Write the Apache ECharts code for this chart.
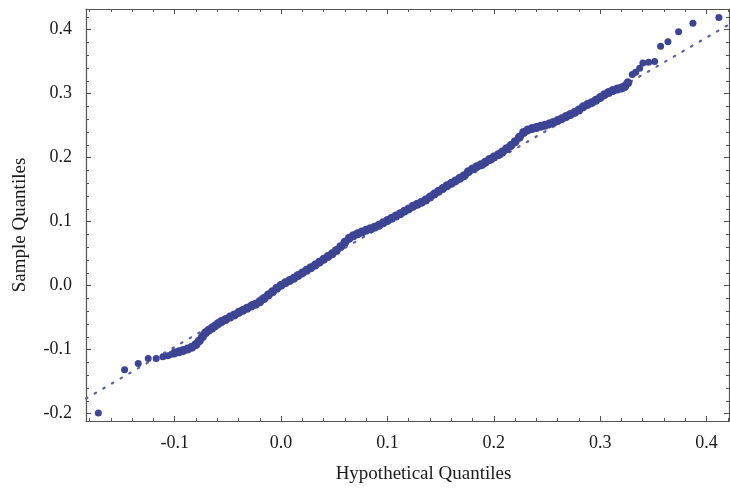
<!DOCTYPE html>
<html>
<head>
<meta charset="utf-8">
<script src="https://cdn.jsdelivr.net/npm/echarts@6/dist/echarts.min.js"></script>
<style>
  html, body { margin: 0; padding: 0; background: #fff; }
  #chart { width: 730px; height: 488px; }
</style>
</head>
<body>
<div id="chart"></div>
<script>
// sample quantiles (theoretical x, sample y)
var sampleX = [
  -0.1718, -0.1471, -0.1343, -0.1249, -0.1174, -0.1111, -0.1064, -0.1030,
  -0.100, -0.096, -0.092, -0.088, -0.084, -0.080, -0.077, -0.074, -0.071, -0.068,
  -0.065, -0.062, -0.059, -0.056, -0.052, -0.048, -0.044, -0.040, -0.036, -0.032,
  -0.028, -0.024, -0.020, -0.016, -0.012, -0.008, -0.004, 0.000, 0.004, 0.008,
  0.012, 0.016, 0.020, 0.024, 0.028, 0.032, 0.036, 0.040, 0.044, 0.048,
  0.052, 0.056, 0.060, 0.064, 0.068, 0.072, 0.076, 0.080, 0.084, 0.088,
  0.092, 0.096, 0.100, 0.104, 0.108, 0.112, 0.116, 0.120, 0.124, 0.128,
  0.132, 0.136, 0.140, 0.144, 0.148, 0.152, 0.156, 0.160, 0.164, 0.168,
  0.172, 0.176, 0.180, 0.184, 0.188, 0.192, 0.196, 0.200, 0.204, 0.208,
  0.212, 0.216, 0.220, 0.224, 0.228, 0.232, 0.236, 0.240, 0.244, 0.248,
  0.252, 0.256, 0.260, 0.264, 0.268, 0.272, 0.276, 0.280, 0.284, 0.288,
  0.292, 0.296, 0.300, 0.304, 0.308, 0.312, 0.316, 0.320, 0.323, 0.326,
  0.3302, 0.3333, 0.3371, 0.3402, 0.3455, 0.3512, 0.3568, 0.3637, 0.3737, 0.3872, 0.4116
];
var sampleY = [
  -0.1990, -0.1313, -0.1214, -0.1136, -0.1136, -0.1110, -0.1095, -0.1070,
  -0.1050, -0.1032, -0.1012, -0.0990, -0.0962, -0.0918, -0.0862, -0.0800, -0.0735, -0.0695,
  -0.0662, -0.0628, -0.0590, -0.0560, -0.0528, -0.0490, -0.0458, -0.0420, -0.0386, -0.0352,
  -0.0318, -0.0290, -0.0250, -0.0200, -0.0145, -0.0095, -0.0040, 0.0008, 0.0045, 0.0080,
  0.0115, 0.0160, 0.0200, 0.0242, 0.0280, 0.0322, 0.0368, 0.0412, 0.0455, 0.0498,
  0.0550, 0.0610, 0.0680, 0.0740, 0.0780, 0.0812, 0.0840, 0.0868, 0.0890, 0.0915,
  0.0945, 0.0982, 0.1018, 0.1055, 0.1090, 0.1125, 0.1165, 0.1200, 0.1240, 0.1272,
  0.1305, 0.1340, 0.1385, 0.1432, 0.1475, 0.1518, 0.1562, 0.1600, 0.1638, 0.1680,
  0.1718, 0.1780, 0.1825, 0.1860, 0.1890, 0.1930, 0.1972, 0.2010, 0.2045, 0.2090,
  0.2140, 0.2190, 0.2250, 0.2320, 0.2395, 0.2435, 0.2455, 0.2472, 0.2490, 0.2508,
  0.2528, 0.2550, 0.2580, 0.2610, 0.2645, 0.2675, 0.2708, 0.2745, 0.2795, 0.2830,
  0.2860, 0.2898, 0.2940, 0.2985, 0.3020, 0.3050, 0.3072, 0.3090, 0.3112, 0.3170,
  0.3300, 0.3336, 0.3398, 0.3482, 0.3492, 0.3502, 0.3741, 0.3814, 0.3970, 0.4100, 0.4193
];

// dotted reference line, end points
var refX = [-0.1834, 0.4211];
var refY = [-0.1763, 0.4082];

// tick values
var xMajor = [-0.1, 0, 0.1, 0.2, 0.3, 0.4];
var xMinor = [-0.18, -0.16, -0.14, -0.12, -0.08, -0.06, -0.04, -0.02, 0.02, 0.04, 0.06, 0.08,
  0.12, 0.14, 0.16, 0.18, 0.22, 0.24, 0.26, 0.28, 0.32, 0.34, 0.36, 0.38, 0.42];
var yMajor = [-0.2, -0.1, 0, 0.1, 0.2, 0.3, 0.4];
var yMinor = [-0.18, -0.16, -0.14, -0.12, -0.08, -0.06, -0.04, -0.02, 0.02, 0.04, 0.06, 0.08,
  0.12, 0.14, 0.16, 0.18, 0.22, 0.24, 0.26, 0.28, 0.32, 0.34, 0.36, 0.38, 0.42];

var xRange = [-0.1834, 0.4211];
var yRange = [-0.2114, 0.4324];

var frameColor = '#555';
var dotColor = '#3d4494';
var font = '"Liberation Serif", "DejaVu Serif", serif';

function axis(pos, range, ticks, len, withLine, withLabel) {
  return {
    type: 'value',
    position: pos,
    min: range[0],
    max: range[1],
    axisLine: { show: withLine, onZero: false, lineStyle: { color: frameColor, width: 1.2 } },
    axisTick: { show: true, inside: true, length: len, customValues: ticks,
      lineStyle: { color: frameColor, width: 1 } },
    axisLabel: withLabel ? {
      show: true,
      customValues: ticks,
      margin: pos === 'bottom' ? 13 : 14,
      color: '#1a1a1a',
      fontFamily: font,
      fontSize: 18,
      formatter: function (v) { return v.toFixed(1); }
    } : { show: false },
    splitLine: { show: false }
  };
}

var xMain = axis('bottom', xRange, xMajor, 5, true, true);
xMain.name = 'Hypothetical Quantiles';
xMain.nameLocation = 'middle';
xMain.nameGap = 44;
xMain.nameTextStyle = { fontFamily: font, fontSize: 19, color: '#1a1a1a', padding: [0, 0, 0, 32] };

var yMain = axis('left', yRange, yMajor, 5, true, true);
yMain.name = 'Sample Quantiles';
yMain.nameLocation = 'middle';
yMain.nameGap = 56;
yMain.nameTextStyle = { fontFamily: font, fontSize: 19, color: '#1a1a1a', padding: [0, 0, 0, -20] };

var points = sampleX.map(function (x, i) { return [x, sampleY[i]]; });
var refLine = refX.map(function (x, i) { return [x, refY[i]]; });

var option = {
  backgroundColor: '#fff',
  animation: false,
  grid: {
    left: 86,
    top: 9,
    right: 1,
    bottom: 67,
    containLabel: false,
    outerBoundsMode: 'none'
  },
  xAxis: [
    xMain,
    axis('bottom', xRange, xMinor, 3, false, false),
    axis('top', xRange, xMajor, 5, true, false),
    axis('top', xRange, xMinor, 3, false, false)
  ],
  yAxis: [
    yMain,
    axis('left', yRange, yMinor, 3, false, false),
    axis('right', yRange, yMajor, 5, true, false),
    axis('right', yRange, yMinor, 3, false, false)
  ],
  series: [
    {
      name: 'reference',
      type: 'line',
      xAxisIndex: 0,
      yAxisIndex: 0,
      data: refLine,
      symbol: 'none',
      lineStyle: { color: '#5a60ad', width: 2.2, type: [1.6, 8.4], cap: 'round' },
      z: 1
    },
    {
      name: 'sample',
      type: 'scatter',
      xAxisIndex: 0,
      yAxisIndex: 0,
      data: points,
      symbol: 'circle',
      // the dense run in the middle reads as a thicker band than the lone tail points
      symbolSize: function (val, params) {
        var i = params.dataIndex;
        return (i >= 8 && i < sampleX.length - 11) ? 9 : 7;
      },
      itemStyle: { color: dotColor, opacity: 1 },
      z: 2
    }
  ]
};

var chart = echarts.init(document.getElementById('chart'));
chart.setOption(option);
</script>
</body>
</html>
